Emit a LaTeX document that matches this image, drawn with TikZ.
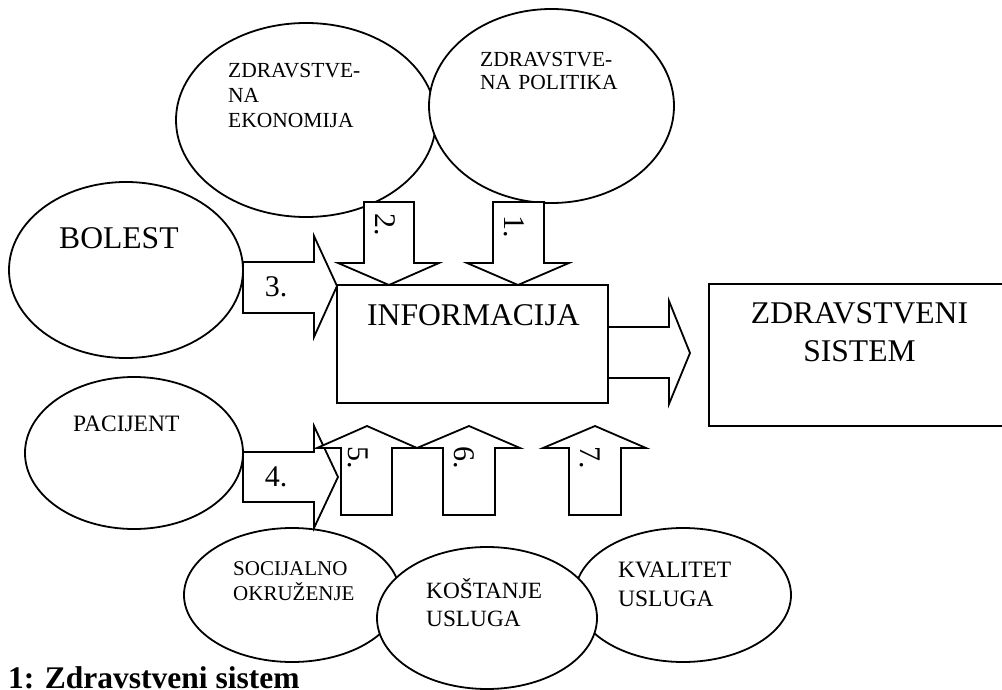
\documentclass[tikz,border=0pt]{standalone}
\usepackage{fontspec}
\setmainfont{Liberation Serif}
\usetikzlibrary{shapes.geometric}

\tikzset{
  oval/.style={ellipse, draw, fill=white, line width=1.8pt, inner sep=0pt, outer sep=0pt},
  blok/.style={draw, line width=1.8pt, line join=miter},
  strelica/.style={draw, fill=white, line width=1.8pt, line join=miter},
  tekst/.style={inner sep=0pt, anchor=base west, align=left, text width=#1},
  tekst/.default=200pt,
  veliki/.style={font=\fontsize{31.6}{38}\selectfont},
  srednji/.style={font=\fontsize{23.5}{28.5}\selectfont},
  mali/.style={font=\fontsize{21.5}{25}\selectfont},
  broj/.style={font=\fontsize{30}{36}\selectfont, inner sep=0pt}
}

\begin{document}
\begin{tikzpicture}[x=1pt,y=-1pt]
  \clip (0,0) rectangle (1002,690);

  %ovali oko informacije
  \node[oval, minimum width=260pt, minimum height=194pt] (ekonomija) at (306,120) {};
  \node[oval, minimum width=245pt, minimum height=194pt] (politika) at (551.5,106) {};
  \node[oval, minimum width=234pt, minimum height=176pt] (bolest) at (126,270) {};
  \node[oval, minimum width=218pt, minimum height=152pt] (pacijent) at (134,453) {};
  \node[oval, minimum width=216pt, minimum height=134pt] (socijalno) at (292,595) {};
  \node[oval, minimum width=216pt, minimum height=134pt] (kvalitet) at (683,595) {};
  \node[oval, minimum width=220pt, minimum height=142pt] (kostanje) at (487,618) {};

  %pravougaonici
  \node[blok, minimum width=271pt, minimum height=118pt, inner sep=0pt, outer sep=0pt] (informacija) at (472.5,344) {};
  \draw[blok] (709,284) rectangle (1020,426);

  %strelice odozgo
  \draw[strelica] (364,202) -- (414,202) -- (414,263) -- (439,263) -- (389,285) -- (338,263) -- (364,263) -- cycle;
  \draw[strelica] (493,202) -- (544,202) -- (544,263) -- (569,263) -- (518,285) -- (467,263) -- (493,263) -- cycle;
  %strelice slijeva
  \draw[strelica] (243,262) -- (314,262) -- (314,236) -- (337,286) -- (314,337) -- (314,313) -- (243,313) -- cycle;
  \draw[strelica] (243,452) -- (314,452) -- (314,426) -- (338,477) -- (314,528) -- (314,502) -- (243,502) -- cycle;
  %strelica prema sistemu
  \draw[strelica] (608,327) -- (669,327) -- (669,301) -- (690,353) -- (669,404) -- (669,378) -- (608,378) -- cycle;
  %strelice odozdo
  \draw[strelica] (341,515) -- (341,448) -- (317,448) -- (367,426) -- (417,448) -- (392,448) -- (392,515) -- cycle;
  \draw[strelica] (443,515) -- (443,448) -- (417,448) -- (469,426) -- (520,448) -- (495,448) -- (495,515) -- cycle;
  \draw[strelica] (569,515) -- (569,448) -- (543,448) -- (595,426) -- (646,448) -- (621,448) -- (621,515) -- cycle;

  %natpisi
  \node[tekst, mali] (tekonomija) at (228,78) {ZDRAVSTVE-\\NA\\EKONOMIJA};
  \node[tekst, mali, font=\fontsize{21.5}{23}\selectfont] (tpolitika) at (480,67) {ZDRAVSTVE-\\NA POLITIKA};
  \node[tekst, veliki] (tbolest) at (59,248) {BOLEST};
  \node[tekst, veliki] (tinformacija) at (367,325) {INFORMACIJA};
  \node[inner sep=0pt, anchor=base, align=center, text width=280pt, veliki] (tsistem) at (859.5,323) {ZDRAVSTVENI\\SISTEM};
  \node[tekst, srednji] (tpacijent) at (73,431) {PACIJENT};
  \node[tekst, mali, font=\fontsize{21}{25}\selectfont] (tsocijalno) at (233,575) {SOCIJALNO\\OKRUŽENJE};
  \node[tekst, srednji, font=\fontsize{23.3}{28}\selectfont] (tkostanje) at (426,598) {KOŠTANJE\\USLUGA};
  \node[tekst, srednji, font=\fontsize{23.5}{29}\selectfont] (tkvalitet) at (618,577) {KVALITET\\USLUGA};

  %brojevi na strelicama
  \node[broj, rotate=-90] (b1) at (514,227) {1.};
  \node[broj, rotate=-90] (b2) at (385,225) {2.};
  \node[broj] (b3) at (276,287) {3.};
  \node[broj] (b4) at (276,477) {4.};
  \node[broj, rotate=-90] (b5) at (358,458) {5.};
  \node[broj, rotate=-90] (b6) at (464,458) {6.};
  \node[broj, rotate=-90] (b7) at (590,458) {7.};

  %naslov slike
  \node[inner sep=0pt, anchor=base west, font=\fontsize{31.5}{36}\selectfont\bfseries] (naslov) at (8,688) {1: Zdravstveni sistem};
\end{tikzpicture}
\end{document}
